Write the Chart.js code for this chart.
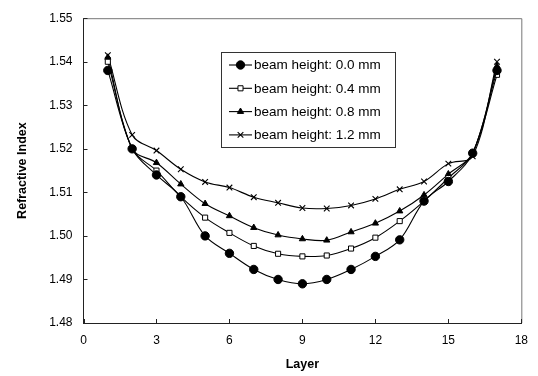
<!DOCTYPE html>
<html>
<head>
<meta charset="utf-8">
<script src="https://cdn.jsdelivr.net/npm/chart.js@4"></script>
<style>
  html, body { margin: 0; padding: 0; background: #fff; }
  #wrap { width: 538px; height: 376px; }
</style>
</head>
<body>
<div id="wrap"><canvas id="chart" width="538" height="376"></canvas></div>
<script>
// --- values ---
const layers = [1, 2, 3, 4, 5, 6, 7, 8, 9, 10, 11, 12, 13, 14, 15, 16, 17];
const seriesLabels = ["beam height: 0.0 mm", "beam height: 0.4 mm", "beam height: 0.8 mm", "beam height: 1.2 mm"];
const beam00 = [1.538, 1.520, 1.514, 1.509, 1.500, 1.496, 1.4923, 1.490, 1.489, 1.490, 1.4923, 1.4953, 1.4991, 1.508, 1.5125, 1.519, 1.538];
const beam04 = [1.540, 1.520, 1.515, 1.509, 1.5042, 1.5007, 1.4977, 1.4959, 1.4953, 1.4955, 1.4971, 1.4996, 1.5034, 1.508, 1.5133, 1.519, 1.537];
const beam08 = [1.541, 1.520, 1.5168, 1.5119, 1.5074, 1.5046, 1.5019, 1.5002, 1.4993, 1.499, 1.5009, 1.5029, 1.5057, 1.5094, 1.5142, 1.519, 1.539];
const beam12 = [1.5415, 1.5232, 1.5196, 1.5153, 1.5124, 1.5111, 1.5089, 1.5076, 1.5064, 1.5063, 1.507, 1.5085, 1.5107, 1.5125, 1.5166, 1.5183, 1.540];
const xTicks = [0, 3, 6, 9, 12, 15, 18];

const pts = arr => arr.map((v, i) => ({ x: layers[i], y: v }));

const markers = [
  { pointStyle: "circle", pointRadius: 4.2, pointBackgroundColor: "#000", pointBorderWidth: 1 },
  { pointStyle: "rect", pointRadius: 3.6, pointBackgroundColor: "#fff", pointBorderWidth: 1 },
  { pointStyle: "triangle", pointRadius: 3.6, pointBackgroundColor: "#000", pointBorderWidth: 1 },
  { pointStyle: "crossRot", pointRadius: 4, pointBackgroundColor: "#000", pointBorderWidth: 1.1 }
];

const allSeries = [beam00, beam04, beam08, beam12];
const datasets = allSeries.map((s, i) => Object.assign({
  label: seriesLabels[i],
  data: pts(s),
  borderColor: "#000",
  borderWidth: 1.1,
  pointBorderColor: "#000",
  tension: 0.35,
  fill: false
}, markers[i]));

// frame + inward ticks + legend box inside the plot
const decor = {
  id: "decor",
  afterDatasetsDraw(chart) {
    const { ctx, chartArea: a, scales } = chart;
    ctx.save();
    ctx.strokeStyle = "#777";
    ctx.lineWidth = 1;
    ctx.beginPath();
    ctx.moveTo(a.left, a.top + 0.5); ctx.lineTo(a.right + 0.5, a.top + 0.5);
    ctx.lineTo(a.right + 0.5, a.bottom);
    ctx.stroke();
    ctx.strokeStyle = "#222";
    ctx.beginPath();
    xTicks.forEach(t => {
      const x = Math.round(scales.x.getPixelForValue(t)) + 0.5;
      ctx.moveTo(x, a.bottom); ctx.lineTo(x, a.bottom - 4);
    });
    scales.y.ticks.forEach(t => {
      const y = Math.round(scales.y.getPixelForValue(t.value)) + 0.5;
      ctx.moveTo(a.left, y); ctx.lineTo(a.left + 4, y);
    });
    ctx.stroke();

    // legend
    const bx = 221.5, by = 52.5, bw = 174, bh = 95;
    ctx.fillStyle = "#fff";
    ctx.fillRect(bx, by, bw, bh);
    ctx.strokeStyle = "#333";
    ctx.strokeRect(bx, by, bw, bh);
    ctx.font = "13.5px 'Liberation Sans', Arial, sans-serif";
    ctx.textBaseline = "middle";
    chart.data.datasets.forEach((ds, i) => {
      const y = 65 + i * 23.3;
      ctx.strokeStyle = "#000";
      ctx.lineWidth = 1.1;
      ctx.beginPath(); ctx.moveTo(229, y); ctx.lineTo(252, y); ctx.stroke();
      ctx.fillStyle = ds.pointBackgroundColor;
      ctx.strokeStyle = "#000";
      ctx.lineWidth = ds.pointBorderWidth;
      Chart.helpers.drawPoint(ctx, {
        pointStyle: ds.pointStyle, radius: ds.pointRadius, rotation: 0, borderWidth: ds.pointBorderWidth
      }, 240.5, y);
      ctx.fillStyle = "#000";
      ctx.fillText(ds.label, 254, y + 0.5);
    });
    ctx.restore();
  }
};

new Chart(document.getElementById("chart"), {
  type: "line",
  data: { datasets },
  options: {
    responsive: false,
    animation: false,
    layout: { padding: { left: 0, top: 13, right: 12, bottom: 0 } },
    plugins: { legend: { display: false }, tooltip: { enabled: false } },
    scales: {
      x: {
        type: "linear", min: 0, max: 18,
        afterBuildTicks: s => { s.ticks = xTicks.map(v => ({ value: v })); },
        afterFit: s => { s.height = 53; },
        grid: { display: false, drawTicks: false },
        border: { display: true, color: "#222", width: 1 },
        ticks: { padding: 10, color: "#000", font: { family: "'Liberation Sans', Arial, sans-serif", size: 12 } },
        title: { display: true, text: "Layer", color: "#000", padding: { top: 0, bottom: 4 },
                 font: { family: "'Liberation Sans', Arial, sans-serif", size: 12.5, weight: "bold" } }
      },
      y: {
        min: 1.48, max: 1.55,
        afterFit: s => { s.width = 83.5; },
        grid: { display: false, drawTicks: false },
        border: { display: true, color: "#222", width: 1 },
        ticks: { stepSize: 0.01, padding: 11, color: "#000",
                 callback: v => v.toFixed(2),
                 font: { family: "'Liberation Sans', Arial, sans-serif", size: 12 } },
        title: { display: true, text: "Refractive Index", color: "#000", padding: { top: 15, bottom: 0 },
                 font: { family: "'Liberation Sans', Arial, sans-serif", size: 12.5, weight: "bold" } }
      }
    }
  },
  plugins: [decor]
});
</script>
</body>
</html>
